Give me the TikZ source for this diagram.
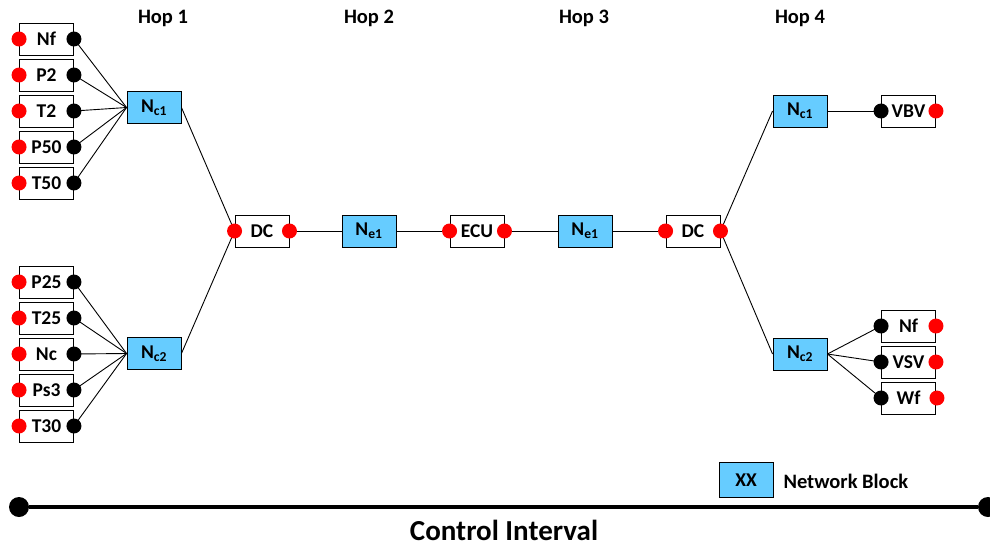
\documentclass[tikz,border=0pt]{standalone}
\usepackage{fontspec}
\setmainfont{Carlito}
\definecolor{netblue}{HTML}{66CCFF}
\definecolor{portred}{HTML}{FF0000}
\tikzset{
  blk/.style={draw, line width=0.9pt, minimum width=54pt, minimum height=32pt,
    inner sep=0pt, font=\bfseries\fontsize{19.5}{19.5}\selectfont},
  netblk/.style={blk, fill=netblue},
  inport/.style={circle, fill=portred, minimum size=15pt, inner sep=0pt},
  outport/.style={circle, fill=black, minimum size=15pt, inner sep=0pt},
  wire/.style={line width=0.9pt},
  hop/.style={font=\bfseries\fontsize{20.5}{20.5}\selectfont},
}
\begin{document}
\begin{tikzpicture}[x=1pt,y=-1pt]
\useasboundingbox (0,0) rectangle (990,549);

% hop headings
\node[hop] (h1) at (163,18) {Hop 1};
\node[hop] (h2) at (369,18) {Hop 2};
\node[hop] (h3) at (584,18) {Hop 3};
\node[hop] (h4) at (800,18) {Hop 4};

% sensor blocks, upper group
\node[blk] (s1) at (46.5,39)  {Nf};
\node[blk] (s2) at (46.5,75)  {P2};
\node[blk] (s3) at (46.5,111) {T2};
\node[blk] (s4) at (46.5,147) {P50};
\node[blk] (s5) at (46.5,183) {T50};
% sensor blocks, lower group
\node[blk] (s6)  at (46.5,282) {P25};
\node[blk] (s7)  at (46.5,318) {T25};
\node[blk] (s8)  at (46.5,354) {Nc};
\node[blk] (s9)  at (46.5,390) {Ps3};
\node[blk] (s10) at (46.5,426) {T30};

% network blocks and processing blocks
\node[netblk] (nc1a) at (154,107.5) {N\textsubscript{c1}};
\node[netblk] (nc2a) at (154,353.5) {N\textsubscript{c2}};
\node[blk]    (dca)  at (262,231) {DC};
\node[netblk] (ne1a) at (369,231) {N\textsubscript{e1}};
\node[blk]    (ecu)  at (477,231) {ECU};
\node[netblk] (ne1b) at (585,231) {N\textsubscript{e1}};
\node[blk]    (dcb)  at (693,231) {DC};
\node[netblk] (nc1b) at (800,111) {N\textsubscript{c1}};
\node[netblk] (nc2b) at (800,354) {N\textsubscript{c2}};

% actuator blocks
\node[blk] (a1) at (908.5,111) {VBV};
\node[blk] (a2) at (908.5,326) {Nf};
\node[blk] (a3) at (908.5,362) {VSV};
\node[blk] (a4) at (908.5,398) {Wf};

% connectors
\foreach \s in {s1,s2,s3,s4,s5} \draw[wire] (\s.east) -- (nc1a.west);
\foreach \s in {s6,s7,s8,s9,s10} \draw[wire] (\s.east) -- (nc2a.west);
\draw[wire] (nc1a.east) -- (dca.west);
\draw[wire] (nc2a.east) -- (dca.west);
\draw[wire] (dca.east) -- (ne1a.west);
\draw[wire] (ne1a.east) -- (ecu.west);
\draw[wire] (ecu.east) -- (ne1b.west);
\draw[wire] (ne1b.east) -- (dcb.west);
\draw[wire] (dcb.east) -- (nc1b.west);
\draw[wire] (dcb.east) -- (nc2b.west);
\draw[wire] (nc1b.east) -- (a1.west);
\foreach \a in {a2,a3,a4} \draw[wire] (nc2b.east) -- (\a.west);

% ports
\foreach \s in {s1,s2,s3,s4,s5,s6,s7,s8,s9,s10} {
  \node[inport]  (\s-in)  at (\s.west) {};
  \node[outport] (\s-out) at (\s.east) {};
}
\foreach \b in {dca,ecu,dcb} {
  \node[inport] (\b-in)  at (\b.west) {};
  \node[inport] (\b-out) at (\b.east) {};
}
\foreach \a in {a1,a2,a3} {
  \node[outport] (\a-in)  at (\a.west) {};
  \node[inport]  (\a-out) at (\a.east) {};
}
\node[outport] (a4-in)  at (a4.west) {};
\node[inport]  (a4-out) at ([xshift=1pt]a4.east) {};

% legend
\node[netblk, minimum height=35pt] (key) at (746,480) {XX};
\node[anchor=west, font=\bfseries\fontsize{20.5}{20.5}\selectfont] (keytext) at (780,481) {Network Block};

% control interval bar
\node[circle, fill=black, minimum size=20pt, inner sep=0pt] (cl) at (19,507) {};
\node[circle, fill=black, minimum size=20pt, inner sep=0pt] (cr) at (988,507) {};
\draw[line width=4.5pt] (cl) -- (cr);
\node[anchor=base, inner sep=0pt, text depth=0pt,
  font=\bfseries\fontsize{29}{29}\selectfont] (ctl) at (504,540) {Control Interval};
\end{tikzpicture}
\end{document}
